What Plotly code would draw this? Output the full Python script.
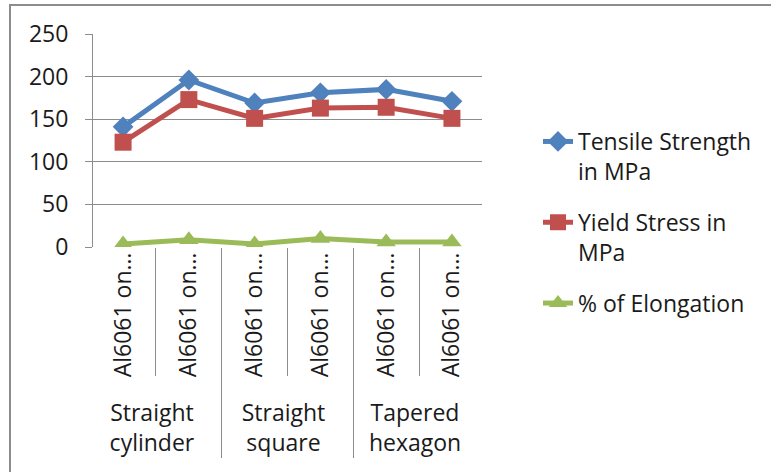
import plotly.graph_objects as go

groups = ["Straight<br>cylinder", "Straight<br>cylinder",
          "Straight<br>square", "Straight<br>square",
          "Tapered<br>hexagon", "Tapered<br>hexagon"]
samples = ["Al6061 on…"] * 6

tensile = [141, 196, 169, 181, 185, 171]
yield_stress = [123, 173, 151, 163, 164, 151]
elongation = [3.5, 8.5, 3.5, 10, 6, 6]

names = ["Tensile Strength<br>in MPa", "Yield Stress in<br>MPa", "% of Elongation"]
colors = ["#4F81BD", "#C0504D", "#9BBB59"]
symbols = ["diamond", "square", "triangle-up"]
msizes = [16, 17, 17]

FONT = "Open Sans"
TXT = "#1a1a1a"
FS = 23

# make each inner label unique (so the six points stay separate) without changing visible text
inner = [s + "\u200b" * i for i, s in enumerate(samples)]

fig = go.Figure()
for vals, nm, col, sym, ms in zip([tensile, yield_stress, elongation], names, colors, symbols, msizes):
    fig.add_trace(go.Scatter(
        x=[groups, inner],
        y=vals, name=nm, mode="lines+markers",
        line=dict(color=col, width=5),
        marker=dict(symbol=sym, size=ms, color=col),
        legendgroup=nm,
    ))

L, R, T, B = 93, 289, 34, 225
W, H = 771, 472
pw = W - L - R
ph = H - T - B

fig.update_layout(
    width=W, height=H,
    margin=dict(l=L, r=R, t=T, b=B),
    paper_bgcolor="white", plot_bgcolor="white",
    font=dict(family=FONT, size=FS, color=TXT),
    showlegend=True,
    legend=dict(x=(538 - L) / pw, y=(H - B - 120) / ph, xanchor="left", yanchor="top",
                valign="top", tracegroupgap=18, font=dict(size=FS, color=TXT),
                itemwidth=30, bgcolor="rgba(0,0,0,0)"),
    xaxis=dict(
        type="multicategory",
        tickangle=-90,
        showgrid=False,
        showline=False,
        ticks="outside", ticklen=128, tickcolor="#8c8c8c", tickwidth=1,
        tickson="boundaries",
        showdividers=True, dividercolor="#8c8c8c", dividerwidth=1,
        tickfont=dict(family=FONT, size=FS, color=TXT),
        zeroline=False,
    ),
    yaxis=dict(
        range=[0, 250], dtick=50, tick0=0,
        showgrid=True, gridcolor="#8c8c8c", gridwidth=1,
        showline=True, linecolor="#8c8c8c", linewidth=1,
        ticks="outside", ticklen=7, tickcolor="#8c8c8c",
        ticklabelstandoff=12,
        zeroline=False,
        tickfont=dict(family=FONT, size=FS, color=TXT),
    ),
    shapes=[dict(type="rect", xref="paper", yref="paper",
                 x0=(10 - L) / pw, x1=(W + 20 - L) / pw,
                 y0=(H - B - (H + 20)) / ph, y1=(H - B - 5) / ph,
                 line=dict(color="#8c8c8c", width=2), fillcolor="rgba(0,0,0,0)", layer="below")],
)

fig.write_html("out.html")
